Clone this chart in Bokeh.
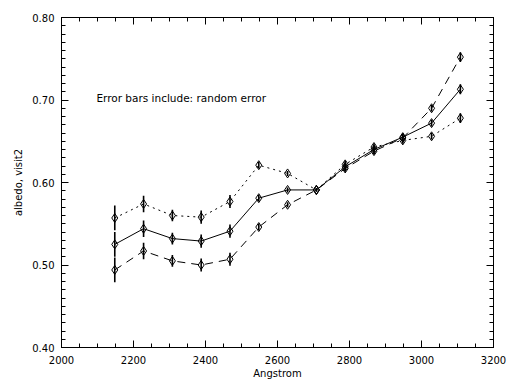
from bokeh.plotting import figure
from bokeh.models import (Range1d, SingleIntervalTicker, LinearAxis, PrintfTickFormatter,
                          Label, CustomLabelingPolicy)
from bokeh.embed import file_html
from bokeh.resources import INLINE

# wavelengths (Angstrom)
wave = [2148, 2228, 2308, 2388, 2468, 2548, 2628, 2708, 2788, 2868, 2948, 3028, 3108]
# albedo series
solid = [0.525, 0.544, 0.532, 0.529, 0.541, 0.581, 0.591, 0.591, 0.619, 0.640, 0.655, 0.672, 0.713]
dotted = [0.557, 0.574, 0.560, 0.558, 0.577, 0.621, 0.611, 0.591, 0.622, 0.643, 0.651, 0.656, 0.678]
dashed = [0.494, 0.517, 0.505, 0.500, 0.507, 0.546, 0.573, 0.591, 0.617, 0.638, 0.654, 0.690, 0.752]
# random error (half-height of the bars)
err = [0.015, 0.010, 0.007, 0.008, 0.008, 0.004, 0.003, 0.002, 0.004, 0.004, 0.004, 0.004, 0.006]

FONT = "DejaVu Sans"

p = figure(width=512, height=384, output_backend="svg", toolbar_location=None,
           x_range=Range1d(2000, 3200), y_range=Range1d(0.40, 0.80),
           min_border_left=61, min_border_right=18, min_border_top=17, min_border_bottom=37,
           background_fill_color="white", border_fill_color="white")
p.xgrid.visible = False
p.ygrid.visible = False
p.outline_line_color = "black"
p.outline_line_width = 1

def style(ax):
    ax.major_tick_in = 7
    ax.major_tick_out = 0
    ax.minor_tick_in = 4
    ax.minor_tick_out = 0
    ax.major_tick_line_color = "black"
    ax.minor_tick_line_color = "black"
    ax.axis_line_color = "black"
    ax.major_label_text_font = FONT
    ax.major_label_text_font_size = "10px"
    ax.major_label_text_color = "black"
    ax.axis_label_text_font = FONT
    ax.axis_label_text_font_size = "10px"
    ax.axis_label_text_font_style = "normal"
    ax.axis_label_text_color = "black"

p.xaxis.ticker = SingleIntervalTicker(interval=200, num_minor_ticks=4)
p.yaxis.ticker = SingleIntervalTicker(interval=0.1, num_minor_ticks=10)
p.yaxis.formatter = PrintfTickFormatter(format="%.2f")
p.xaxis.axis_label = "Angstrom"
p.yaxis.axis_label = "albedo, visit2"
style(p.xaxis[0])
style(p.yaxis[0])
p.xaxis.major_label_standoff = 8
p.yaxis.major_label_standoff = 7
p.xaxis.axis_label_standoff = 1
p.yaxis.axis_label_standoff = 5

top = LinearAxis(ticker=SingleIntervalTicker(interval=200, num_minor_ticks=4),
                 major_label_policy=CustomLabelingPolicy(code=""))
style(top)
top.major_label_standoff = 0
p.add_layout(top, "above")
right = LinearAxis(ticker=SingleIntervalTicker(interval=0.1, num_minor_ticks=10),
                   major_label_policy=CustomLabelingPolicy(code=""))
style(right)
right.major_label_standoff = 0
p.add_layout(right, "right")

for ys, dash in [(solid, "solid"), (dotted, "2 4"), (dashed, "8 6")]:
    p.line(wave, ys, line_color="black", line_width=1, line_dash=dash)
    p.segment(x0=wave, y0=[y - e for y, e in zip(ys, err)],
              x1=wave, y1=[y + e for y, e in zip(ys, err)],
              line_color="black", line_width=1.6)
    p.scatter(wave, ys, marker="diamond", size=9, fill_color=None,
              line_color="black", line_width=1)

p.add_layout(Label(x=2097, y=0.702, text="Error bars include: random error",
                   text_font=FONT, text_font_size="10.5px", text_color="black",
                   text_baseline="middle"))

open("out.html", "w").write(file_html(p, INLINE))
